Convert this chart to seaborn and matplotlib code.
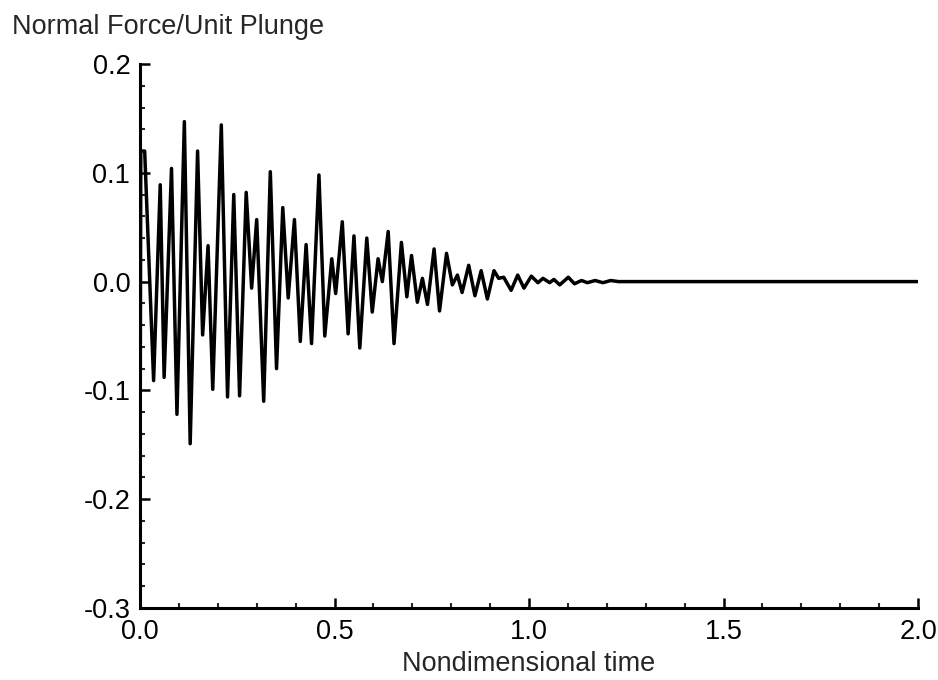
import matplotlib
matplotlib.use("Agg")
import matplotlib.pyplot as plt
from matplotlib.ticker import MultipleLocator
import seaborn as sns
import pandas as pd

# Normal force response to a unit plunge (turning points of the trace)
time_points = [
    0.000, 0.002, 0.012, 0.035, 0.052, 0.062, 0.081, 0.095, 0.114, 0.129,
    0.148, 0.161, 0.175, 0.187, 0.209, 0.225, 0.241, 0.256, 0.273, 0.287,
    0.300, 0.318, 0.335, 0.351, 0.367, 0.381, 0.397, 0.412, 0.427, 0.441,
    0.460, 0.475, 0.493, 0.503, 0.520, 0.535, 0.550, 0.565, 0.583, 0.597,
    0.612, 0.623, 0.638, 0.653, 0.672, 0.686, 0.698, 0.713, 0.726, 0.739,
    0.756, 0.770, 0.788, 0.803, 0.816, 0.828, 0.845, 0.861, 0.877, 0.893,
    0.910, 0.922, 0.935, 0.954, 0.971, 0.987, 1.006, 1.023, 1.036, 1.053,
    1.064, 1.079, 1.101, 1.117, 1.135, 1.150, 1.170, 1.190, 1.210, 1.230,
    2.000,
]
force_values = [
    -0.210, 0.120, 0.120, -0.091, 0.089, -0.088, 0.104, -0.122, 0.147, -0.149,
    0.120, -0.049, 0.033, -0.099, 0.144, -0.106, 0.080, -0.105, 0.082, -0.006,
    0.057, -0.110, 0.101, -0.080, 0.068, -0.015, 0.057, -0.055, 0.034, -0.057,
    0.098, -0.050, 0.021, -0.011, 0.055, -0.048, 0.042, -0.061, 0.040, -0.028,
    0.021, 0.000, 0.046, -0.057, 0.036, -0.014, 0.024, -0.019, 0.003, -0.021,
    0.030, -0.027, 0.026, -0.003, 0.006, -0.010, 0.015, -0.013, 0.010, -0.016,
    0.010, 0.003, 0.004, -0.008, 0.006, -0.006, 0.005, -0.001, 0.003, -0.001,
    0.002, -0.003, 0.004, -0.002, 0.001, -0.001, 0.001, -0.001, 0.001, 0.000,
    0.000,
]

x_ticks = [0.0, 0.5, 1.0, 1.5, 2.0]
y_ticks = [-0.3, -0.2, -0.1, 0.0, 0.1, 0.2]

sns.set_style("ticks")
plt.rcParams["font.family"] = ["Liberation Sans", "DejaVu Sans"]

df = pd.DataFrame({"t": time_points, "force": force_values})

fig = plt.figure(figsize=(9.38, 6.80), dpi=100)
ax = fig.add_axes([140 / 938, 1 - 608 / 680, (918 - 140) / 938, (608 - 64) / 680])

sns.lineplot(data=df, x="t", y="force", ax=ax, color="black", linewidth=2.5,
             estimator=None, sort=False)

ax.set_xlim(0, 2.0)
ax.set_ylim(-0.3, 0.2)
ax.set_xticks(x_ticks)
ax.set_yticks(y_ticks)
ax.set_xticklabels([f"{v:.1f}" for v in x_ticks])
ax.set_yticklabels([f"{v:.1f}" for v in y_ticks])
ax.xaxis.set_minor_locator(MultipleLocator(0.1))
ax.yaxis.set_minor_locator(MultipleLocator(0.02))

for side in ("top", "right"):
    ax.spines[side].set_visible(False)
for side in ("left", "bottom"):
    ax.spines[side].set_linewidth(2.2)
    ax.spines[side].set_color("black")

ax.tick_params(axis="both", which="major", direction="in", length=7, width=1.8,
               labelsize=19.5, colors="black")
ax.tick_params(axis="both", which="minor", direction="in", length=3.5, width=1.5)
ax.tick_params(axis="x", which="major", pad=8)
ax.tick_params(axis="y", which="major", pad=7)

ax.set_xlabel("Nondimensional time", fontsize=19.5, labelpad=4)
ax.set_ylabel("")
fig.text(12 / 938, 1 - 34 / 680, "Normal Force/Unit Plunge", fontsize=19.5,
         ha="left", va="baseline")

fig.savefig("out.png", dpi=100)
